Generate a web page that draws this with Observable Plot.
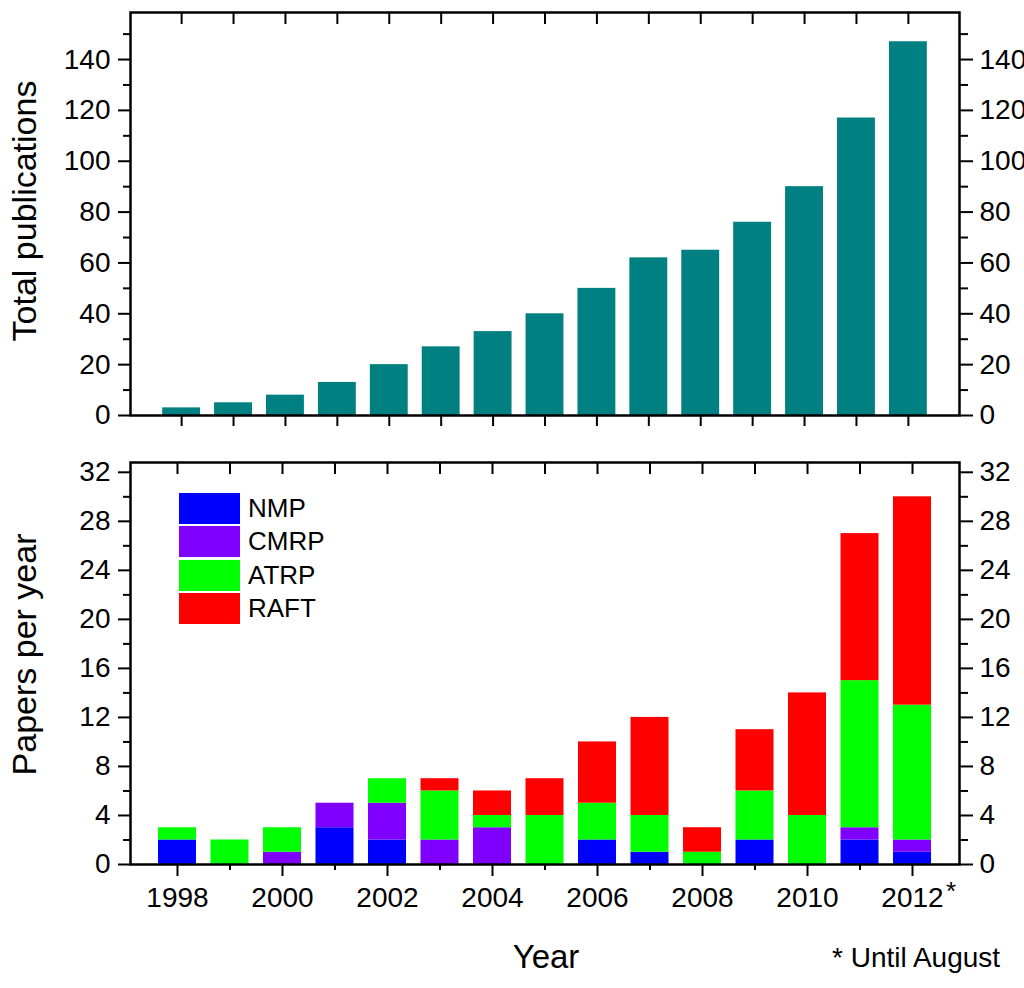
<!DOCTYPE html>
<html><head><meta charset="utf-8">
<script src="https://cdn.jsdelivr.net/npm/d3@7"></script>
<script src="https://cdn.jsdelivr.net/npm/@observablehq/plot@0.6"></script>
<style>
body{margin:0;background:#fff;font-family:'Liberation Sans',Arial,sans-serif;}
#wrap{position:relative;width:1024px;height:988px;overflow:hidden;}
#top,#bottom{position:absolute;left:0;}
#top{top:0}
#bottom{top:440px}
.t{position:absolute;line-height:1;white-space:nowrap;color:#000;font-family:'Liberation Sans',Arial,sans-serif;}
.box{position:absolute;width:61px;height:31px;}
</style></head><body>
<div id="wrap"><div id="top"></div><div id="bottom"></div></div>
<script>
const years = [1998,1999,2000,2001,2002,2003,2004,2005,2006,2007,2008,2009,2010,2011,2012];
const totalPublications = [3,5,8,13,20,27,33,40,50,62,65,76,90,117,147];
const methods = ["NMP","CMRP","ATRP","RAFT"];
const methodColors = ["#0000ff","#8000ff","#00ff00","#ff0000"];
const nmp  = [2,0,0,3,2,0,0,0,2,1,0,2,0,2,1];
const cmrp = [0,0,1,2,3,2,3,0,0,0,0,0,0,1,1];
const atrp = [1,2,2,0,2,4,1,4,3,3,1,4,4,12,11];
const raft = [0,0,0,0,0,1,2,3,5,8,2,5,10,12,17];
const topMajor = [0,20,40,60,80,100,120,140];
const topMinor = [10,30,50,70,90,110,130,150];
const bottomMajor = [0,4,8,12,16,20,24,28,32];
const bottomMinor = [2,6,10,14,18,22,26,30];
const labeledYears = [1998,2000,2002,2004,2006,2008,2010,2012];
const unlabeledYears = [1999,2001,2003,2005,2007,2009,2011];

const font = "'Liberation Sans', Arial, sans-serif";
const topData = years.map((year, i) => ({year, total: totalPublications[i]}));
const series = [nmp, cmrp, atrp, raft];
const stackData = years.flatMap((year, i) => methods.map((m, j) => ({year, method: m, count: series[j][i]})));

function yAxes(major, minor) {
  return [
    Plot.axisY({anchor: "left", ticks: major, tickSize: 12, tickPadding: 8, strokeWidth: 2, fontSize: 28, label: null}),
    Plot.axisY({anchor: "left", ticks: minor, tickSize: 7, strokeWidth: 2, text: null, label: null}),
    Plot.axisY({anchor: "right", ticks: major, tickSize: 13, tickPadding: 7, strokeWidth: 2, fontSize: 28, label: null}),
    Plot.axisY({anchor: "right", ticks: minor, tickSize: 8, strokeWidth: 2, text: null, label: null})
  ];
}

const topPlot = Plot.plot({
  width: 1024, height: 440,
  marginLeft: 130, marginRight: 65, marginTop: 12, marginBottom: 25,
  style: {fontFamily: font, color: "#000", background: "#fff", overflow: "visible"},
  x: {type: "band", domain: years, paddingInner: 0.27, paddingOuter: 0.62, round: false, axis: null},
  y: {domain: [0, 158.5], axis: null},
  marks: [
    Plot.barY(topData, {x: "year", y: "total", fill: "#008080"}),
    ...yAxes(topMajor, topMinor),
    Plot.axisX({anchor: "bottom", ticks: years, tickSize: 11, strokeWidth: 2, text: null, label: null}),
    Plot.tickX(years, {x: d => d, stroke: "#000", strokeWidth: 2, insetBottom: 391}),
    Plot.text(["Total publications"], {frameAnchor: "left", textAnchor: "middle", dx: -105, dy: -3, rotate: -90, fontSize: 34, fill: "#000"}),
    Plot.frame({stroke: "#000", strokeWidth: 2.5})
  ]
});
document.getElementById("top").append(topPlot);

const bottomPlot = Plot.plot({
  width: 1024, height: 548,
  marginLeft: 130, marginRight: 65, marginTop: 22, marginBottom: 124,
  style: {fontFamily: font, color: "#000", background: "#fff", overflow: "visible"},
  x: {type: "band", domain: years, paddingInner: 0.276, paddingOuter: 0.533, round: false, axis: null},
  y: {domain: [0, 32.8], axis: null},
  color: {domain: methods, range: methodColors},
  marks: [
    Plot.barY(stackData, {x: "year", y: "count", fill: "method", z: "method"}),
    ...yAxes(bottomMajor, bottomMinor),
    Plot.axisX({anchor: "bottom", ticks: labeledYears, tickFormat: d => String(d), tickSize: 12, tickPadding: 11, strokeWidth: 2, fontSize: 28, label: null}),
    Plot.axisX({anchor: "bottom", ticks: unlabeledYears, tickSize: 6, strokeWidth: 2, text: null, label: null}),
    Plot.tickX(years, {x: d => d, stroke: "#000", strokeWidth: 2, insetBottom: 390}),
    Plot.text(["Papers per year"], {frameAnchor: "left", textAnchor: "middle", dx: -105, dy: -9, rotate: -90, fontSize: 34, fill: "#000"}),
    Plot.frame({stroke: "#000", strokeWidth: 2.5})
  ]
});
document.getElementById("bottom").append(bottomPlot);

// legend and captions
const wrap = document.getElementById("wrap");
methods.forEach((m, j) => {
  const b = document.createElement("div");
  b.className = "box";
  b.style.left = "179px";
  b.style.top = (493 + j * 33.4) + "px";
  b.style.background = methodColors[j];
  wrap.append(b);
  const t = document.createElement("div");
  t.className = "t";
  t.style.left = "248px";
  t.style.top = (495 + j * 33.4) + "px";
  t.style.fontSize = "26px";
  t.textContent = m;
  wrap.append(t);
});
function addText(txt, left, top, size) {
  const t = document.createElement("div");
  t.className = "t";
  t.style.left = left + "px";
  t.style.top = top + "px";
  t.style.fontSize = size + "px";
  t.textContent = txt;
  wrap.append(t);
  return t;
}
const yl = addText("Year", 0, 940, 33);
yl.style.left = (546 - yl.getBoundingClientRect().width / 2) + "px";
addText("* Until August", 832, 944, 28);
addText("*", 946, 878, 26);
</script>
</body></html>
